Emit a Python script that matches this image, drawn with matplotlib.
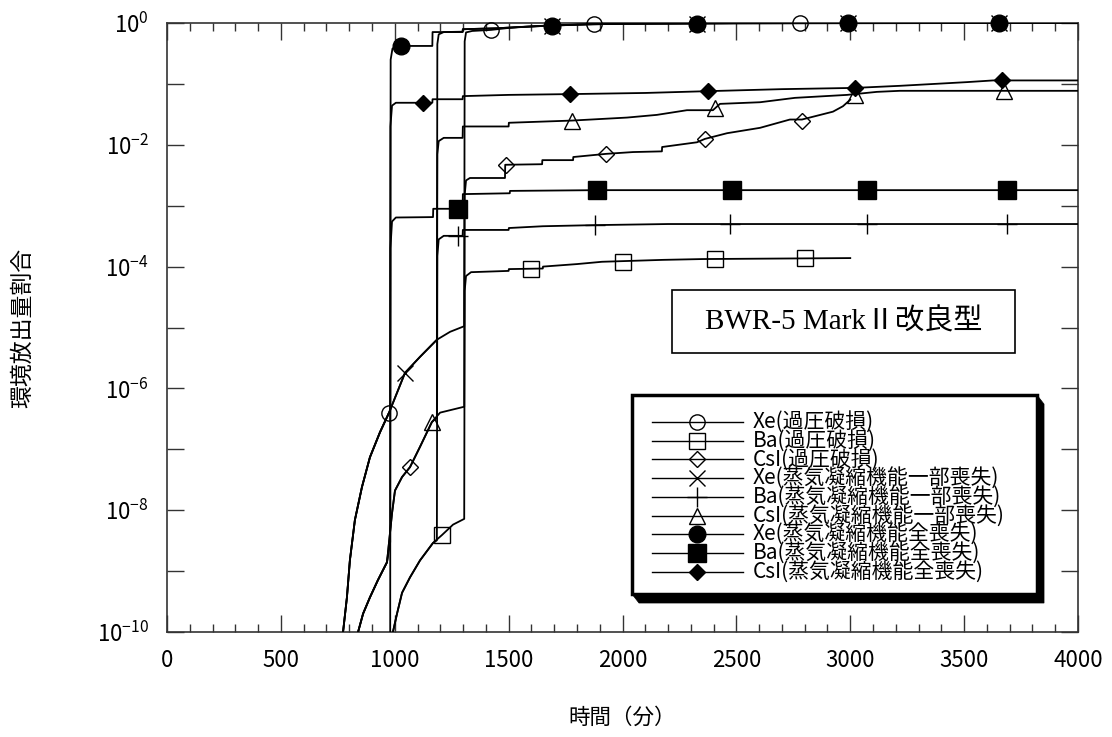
import numpy as np
import matplotlib.pyplot as plt
from matplotlib import font_manager
from matplotlib.ticker import FixedLocator, MultipleLocator, NullFormatter
from matplotlib.patches import Rectangle, Polygon

# フォント (細身の欧文があればそれを使う)
names = {f.name for f in font_manager.fontManager.ttflist}
if 'Liberation Sans Narrow' in names:
    latin = 'Liberation Sans Narrow'
    tick_size = 20
else:
    latin = 'Noto Sans CJK JP'
    tick_size = 16
plt.rcParams['font.family'] = [latin, 'Noto Sans CJK JP', 'DejaVu Sans']

# 破損前の共通曲線
xe_pre_x = [768, 773, 790, 803, 825, 856, 891, 935, 975, 1045, 1111, 1185, 1243, 1305]
xe_pre_y = [1e-11, 1e-10, 3.7e-10, 1.5e-9, 6.9e-9, 2.4e-8, 7.4e-8, 1.9e-7, 4.0e-7, 1.8e-6, 3.3e-6, 6.3e-6, 8.5e-6, 1.05e-5]
csi_pre_x = [830, 839, 861, 891, 926, 966, 988, 1001, 1032, 1067, 1111, 1163, 1199, 1305]
csi_pre_y = [5e-11, 1e-10, 2.0e-10, 3.7e-10, 7.1e-10, 1.4e-9, 8.9e-9, 2.1e-8, 3.5e-8, 5.1e-8, 1.1e-7, 2.8e-7, 4.0e-7, 5.0e-7]
ba_pre_x = [985, 992, 1010, 1032, 1067, 1111, 1168, 1207, 1256, 1305]
ba_pre_y = [5e-11, 1e-10, 2.0e-10, 4.4e-10, 7.9e-10, 1.5e-9, 2.9e-9, 3.9e-9, 5.8e-9, 7.2e-9]

# 過圧破損 (1305分)
xe_op_x = [1305, 1307, 1313, 1340, 1423, 1500, 1600, 1700, 1875, 2000, 2500, 3000]
xe_op_y = [1.05e-5, 0.5, 0.7, 0.74, 0.77, 0.83, 0.88, 0.92, 0.96, 0.97, 0.99, 1.0]
ba_op_x = [1305, 1307, 1313, 1335, 1500, 1501, 1650, 1651, 1800, 1910, 2178, 2350, 3000]
ba_op_y = [7.2e-9, 4e-5, 7e-5, 8.1e-5, 8.5e-5, 9.1e-5, 9.3e-5, 1.0e-4, 1.1e-4, 1.2e-4, 1.29e-4, 1.33e-4, 1.38e-4]
csi_op_x = [1305, 1307, 1313, 1330, 1484, 1485, 1647, 1648, 1783, 1784, 1928, 2046, 2173, 2174,
            2327, 2362, 2459, 2604, 2735, 2788, 2924, 2968, 3000]
csi_op_y = [5.0e-7, 0.0015, 0.0026, 0.00285, 0.00285, 0.0047, 0.0048, 0.0056, 0.0056, 0.0063, 0.0071, 0.0076, 0.0078, 0.0092,
            0.011, 0.0125, 0.0155, 0.019, 0.026, 0.026, 0.035, 0.043, 0.055]

# 蒸気凝縮機能一部喪失 (1185分)
xe_pt_x = [1185, 1187, 1193, 1215, 1298, 1299, 1450, 1550, 1700, 1850, 2000, 2500, 4000]
xe_pt_y = [6.3e-6, 0.45, 0.65, 0.71, 0.72, 0.79, 0.82, 0.86, 0.91, 0.95, 0.97, 0.99, 1.0]
ba_pt_x = [1185, 1187, 1193, 1215, 1298, 1299, 1500, 1501, 1650, 1879, 2200, 4000]
ba_pt_y = [3.2e-9, 1.5e-4, 2.8e-4, 3.2e-4, 3.2e-4, 4.0e-4, 4.0e-4, 4.3e-4, 4.6e-4, 4.8e-4, 5.0e-4, 5.0e-4]
csi_pt_x = [1185, 1187, 1193, 1215, 1298, 1299, 1500, 1501, 1778, 2020, 2151, 2283, 2397, 2428,
            2604, 2757, 2986, 3117, 3218, 4000]
csi_pt_y = [3.3e-7, 0.007, 0.0115, 0.013, 0.013, 0.020, 0.020, 0.023, 0.025, 0.028, 0.031, 0.037, 0.037, 0.047,
            0.050, 0.059, 0.066, 0.074, 0.077, 0.077]

# 蒸気凝縮機能全喪失 (980分)
xe_zen_x = [980, 982, 990, 1010, 1165, 1166, 1298, 1299, 1450, 1550, 1700, 1850, 2000, 2500, 4000]
xe_zen_y = [4.2e-7, 0.25, 0.38, 0.42, 0.42, 0.71, 0.71, 0.79, 0.82, 0.86, 0.91, 0.95, 0.97, 0.99, 1.0]
ba_zen_x = [980, 981, 988, 1005, 1168, 1169, 1298, 1299, 1505, 1506, 1888, 4000]
ba_zen_y = [5e-11, 2e-4, 5.5e-4, 6.4e-4, 6.5e-4, 8.9e-4, 8.9e-4, 1.55e-3, 1.6e-3, 1.75e-3, 1.8e-3, 1.8e-3]
csi_zen_x = [980, 981, 988, 1005, 1165, 1166, 1298, 1299, 1500, 1770, 2100, 2375, 2700, 3021, 3218, 3513, 3627, 4000]
csi_zen_y = [3e-9, 0.02, 0.044, 0.049, 0.049, 0.056, 0.056, 0.063, 0.066, 0.068, 0.071, 0.076, 0.082, 0.086, 0.093,
             0.107, 0.114, 0.114]

# マーカー位置
mk_xe_op_x = [975, 1423, 1875, 2327, 2779]
mk_xe_op_y = [4.0e-7, 0.77, 0.96, 0.98, 0.99]
mk_ba_op_x = [1207, 1598, 2002, 2406, 2801]
mk_ba_op_y = [3.9e-9, 9.1e-5, 1.2e-4, 1.33e-4, 1.38e-4]
mk_csi_op_x = [1067, 1488, 1928, 2362, 2788]
mk_csi_op_y = [5.1e-8, 4.7e-3, 7.1e-3, 1.25e-2, 2.5e-2]
mk_xe_pt_x = [1045, 1690, 2327, 2990, 3653]
mk_xe_pt_y = [1.8e-6, 0.9, 0.98, 0.99, 0.99]
mk_ba_pt_x = [1278, 1879, 2472, 3073, 3688]
mk_ba_pt_y = [3.2e-4, 4.8e-4, 5.0e-4, 5.0e-4, 5.0e-4]
mk_csi_pt_x = [1163, 1778, 2406, 3021, 3675]
mk_csi_pt_y = [2.8e-7, 2.5e-2, 4.0e-2, 6.6e-2, 7.7e-2]
mk_xe_zen_x = [1027, 1690, 2327, 2990, 3653]
mk_xe_zen_y = [0.42, 0.9, 0.98, 0.99, 0.99]
mk_ba_zen_x = [1278, 1888, 2481, 3073, 3688]
mk_ba_zen_y = [8.9e-4, 1.8e-3, 1.8e-3, 1.8e-3, 1.8e-3]
mk_csi_zen_x = [1124, 1770, 2375, 3021, 3666]
mk_csi_zen_y = [0.049, 0.068, 0.076, 0.086, 0.115]

labels = ['Xe(過圧破損)', 'Ba(過圧破損)', 'CsI(過圧破損)',
          'Xe(蒸気凝縮機能一部喪失)', 'Ba(蒸気凝縮機能一部喪失)', 'CsI(蒸気凝縮機能一部喪失)',
          'Xe(蒸気凝縮機能全喪失)', 'Ba(蒸気凝縮機能全喪失)', 'CsI(蒸気凝縮機能全喪失)']


def upto(xs, ys, t):
    return [x for x in xs if x < t], [y for x, y in zip(xs, ys) if x < t]


series = []
for pre_x, pre_y, t, post_x, post_y in [
        (xe_pre_x, xe_pre_y, 1305, xe_op_x, xe_op_y),
        (ba_pre_x, ba_pre_y, 1305, ba_op_x, ba_op_y),
        (csi_pre_x, csi_pre_y, 1305, csi_op_x, csi_op_y),
        (xe_pre_x, xe_pre_y, 1185, xe_pt_x, xe_pt_y),
        (ba_pre_x, ba_pre_y, 1185, ba_pt_x, ba_pt_y),
        (csi_pre_x, csi_pre_y, 1185, csi_pt_x, csi_pt_y),
        (xe_pre_x, xe_pre_y, 980, xe_zen_x, xe_zen_y),
        (ba_pre_x, ba_pre_y, 980, ba_zen_x, ba_zen_y),
        (csi_pre_x, csi_pre_y, 980, csi_zen_x, csi_zen_y)]:
    px, py = upto(pre_x, pre_y, t)
    series.append((px + post_x, py + post_y))

markers = [(mk_xe_op_x, mk_xe_op_y), (mk_ba_op_x, mk_ba_op_y), (mk_csi_op_x, mk_csi_op_y),
           (mk_xe_pt_x, mk_xe_pt_y), (mk_ba_pt_x, mk_ba_pt_y), (mk_csi_pt_x, mk_csi_pt_y),
           (mk_xe_zen_x, mk_xe_zen_y), (mk_ba_zen_x, mk_ba_zen_y), (mk_csi_zen_x, mk_csi_zen_y)]

styles = [dict(marker='o', ms=11, mfc='none'), dict(marker='s', ms=11, mfc='none'),
          dict(marker='D', ms=8, mfc='none'), dict(marker='x', ms=12),
          dict(marker='+', ms=14), dict(marker='^', ms=12, mfc='none'),
          dict(marker='o', ms=12, mfc='black'), dict(marker='s', ms=13, mfc='black'),
          dict(marker='D', ms=8.5, mfc='black')]

fig = plt.figure(figsize=(11.12, 7.37), dpi=100)
ax = fig.add_axes([167 / 1112, 1 - 632 / 737, 911 / 1112, 609 / 737])

for (sx, sy), (mx, my), st in zip(series, markers, styles):
    ax.plot(sx, sy, color='black', lw=1.3, zorder=3)
    ax.plot(mx, my, ls='none', color='black', mec='black', mew=1.0, clip_on=False, zorder=4, **st)

ax.set_yscale('log')
ax.set_xlim(0, 4000)
ax.set_ylim(1e-10, 1)
ax.set_xticks(np.arange(0, 4001, 500))
ax.xaxis.set_minor_locator(MultipleLocator(100))
ax.yaxis.set_major_locator(FixedLocator([1e-10, 1e-8, 1e-6, 1e-4, 1e-2, 1]))
ax.yaxis.set_minor_locator(FixedLocator([1e-9, 1e-7, 1e-5, 1e-3, 1e-1]))
ax.yaxis.set_minor_formatter(NullFormatter())
ax.tick_params(which='both', direction='in', top=True, right=True, width=1.0, color='#333333')
ax.tick_params(which='major', length=12, labelsize=tick_size)
ax.tick_params(axis='x', which='major', pad=12)
ax.tick_params(axis='y', which='major', pad=13)
ax.tick_params(axis='x', which='minor', length=6)
ax.tick_params(axis='y', which='minor', length=12)
for sp in ax.spines.values():
    sp.set_linewidth(1.2)
    sp.set_color('#333333')

ax.set_xlabel('時間（分）', fontsize=15.5, family='Noto Sans CJK JP', va='center')
ax.xaxis.set_label_coords(0.5, -0.141)
ax.set_ylabel('環境放出量割合', fontsize=16.5, family='Noto Sans CJK JP', va='center')
ax.yaxis.set_label_coords(-0.159, 0.5)

# 炉型の表示
ax.add_patch(Rectangle((0.554, 0.458), 0.377, 0.104, transform=ax.transAxes,
                       fc='white', ec='black', lw=1.2, zorder=5))
ax.text(0.7425, 0.51, 'BWR-5 MarkⅡ改良型', transform=ax.transAxes, ha='center', va='center',
        fontsize=21, family=['Liberation Serif', 'Noto Sans CJK JP'], zorder=6)

# 凡例 (影付きの枠)
lx0, lx1, ly0, ly1 = 0.5104, 0.955, 0.0624, 0.389
dx, dy = 0.0077, 0.0148
ax.add_patch(Polygon([(lx0, ly0), (lx0 + dx, ly0 - dy), (lx1 + dx, ly0 - dy), (lx1 + dx, ly1 - dy),
                      (lx1, ly1), (lx1, ly0)], closed=True, transform=ax.transAxes,
                     fc='black', ec='black', lw=0.5, zorder=5))
ax.add_patch(Rectangle((lx0, ly0), lx1 - lx0, ly1 - ly0, transform=ax.transAxes,
                       fc='white', ec='black', lw=2.5, zorder=6))
for i, (lab, st) in enumerate(zip(labels, styles)):
    ay = (632 - (422 + i * 18.7)) / 609
    ax.plot([0.532, 0.632], [ay, ay], transform=ax.transAxes, color='black', lw=1.0, zorder=7)
    ax.plot([0.582], [ay], transform=ax.transAxes, ls='none', color='black', mec='black',
            mew=1.0, zorder=8, **st)
    ax.text(0.643, ay, lab, transform=ax.transAxes, ha='left', va='center', fontsize=15, zorder=8)

fig.savefig('out.png', dpi=100)
